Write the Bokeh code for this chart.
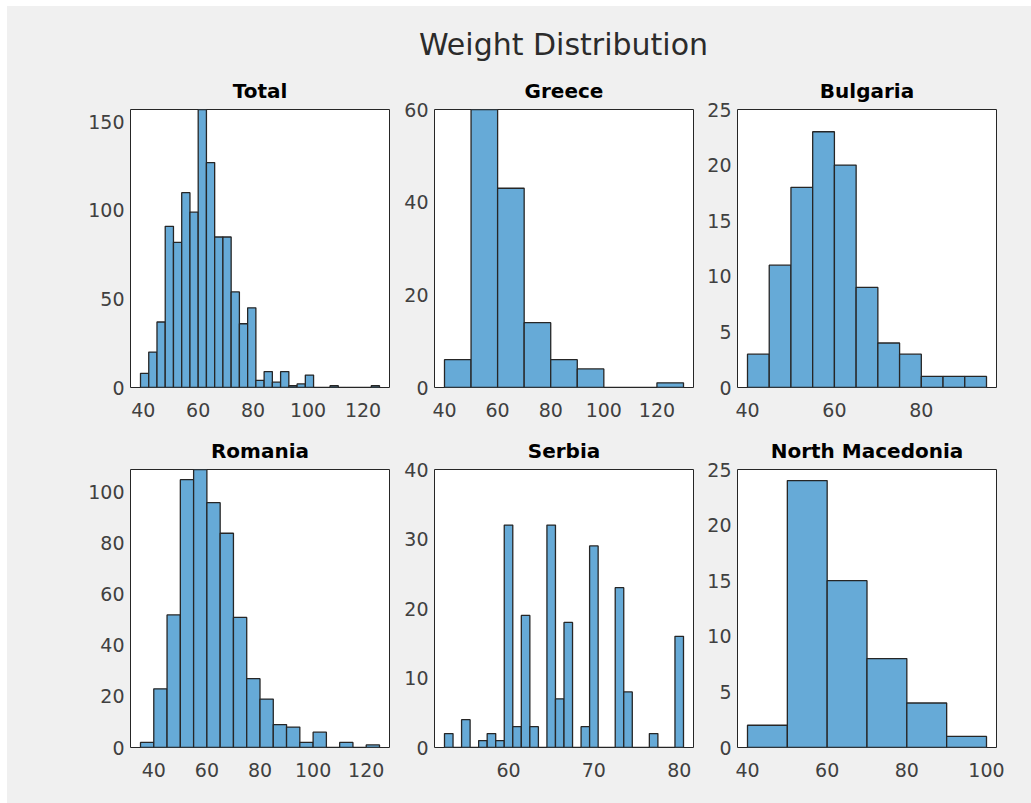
from bokeh.plotting import figure
from bokeh.layouts import column, row
from bokeh.models import Range1d, FixedTicker, Title, Div
from bokeh.embed import file_html
from bokeh.resources import INLINE

# ---- histogram data (bin edges and counts per panel) ----
total_edges = [39, 42, 45, 48, 51, 54, 57, 60, 63, 66, 69, 72, 75, 78, 81, 84, 87,
               90, 93, 96, 99, 102, 105, 108, 111, 114, 117, 120, 123, 126]
total_counts = [8, 20, 37, 91, 82, 110, 99, 157, 127, 85, 85, 54, 36, 45, 4, 9, 3,
                9, 1, 2, 7, 0, 0, 1, 0, 0, 0, 0, 1]

greece_edges = [40, 50, 60, 70, 80, 90, 100, 110, 120, 130]
greece_counts = [6, 60, 43, 14, 6, 4, 0, 0, 1]

bulgaria_edges = [40, 45, 50, 55, 60, 65, 70, 75, 80, 85, 90, 95]
bulgaria_counts = [3, 11, 18, 23, 20, 9, 4, 3, 1, 1, 1]

romania_edges = [35, 40, 45, 50, 55, 60, 65, 70, 75, 80, 85, 90, 95, 100,
                 105, 110, 115, 120, 125]
romania_counts = [2, 23, 52, 105, 109, 96, 84, 51, 27, 19, 9, 8, 2, 6, 0, 2, 0, 1]

# Serbia uses integer bins centred on each whole kilogram
serbia_weights = [53, 54, 55, 56, 57, 58, 59, 60, 61, 62, 63, 64, 65, 66, 67, 68,
                  69, 70, 71, 72, 73, 74, 75, 76, 77, 78, 79, 80]
serbia_counts = [2, 0, 4, 0, 1, 2, 1, 32, 3, 19, 3, 0, 32, 7, 18, 0,
                 3, 29, 0, 0, 23, 8, 0, 0, 2, 0, 0, 16]
serbia_edges = [w - 0.5 for w in serbia_weights] + [serbia_weights[-1] + 0.5]

macedonia_edges = [40, 50, 60, 70, 80, 90, 100]
macedonia_counts = [2, 24, 15, 8, 4, 1]

panels = [
    ("Total", total_edges, total_counts, 157, [40, 60, 80, 100, 120], [0, 50, 100, 150]),
    ("Greece", greece_edges, greece_counts, 60, [40, 60, 80, 100, 120], [0, 20, 40, 60]),
    ("Bulgaria", bulgaria_edges, bulgaria_counts, 25, [40, 60, 80], [0, 5, 10, 15, 20, 25]),
    ("Romania", romania_edges, romania_counts, 109, [40, 60, 80, 100, 120], [0, 20, 40, 60, 80, 100]),
    ("Serbia", serbia_edges, serbia_counts, 40, [60, 70, 80], [0, 10, 20, 30, 40]),
    ("North Macedonia", macedonia_edges, macedonia_counts, 25, [40, 60, 80, 100], [0, 5, 10, 15, 20, 25]),
]

# ---- styling / layout ----
FRAME_W, FRAME_H = 259, 278
EDGE_PAD_PX = 10
COL_BORDERS = [(123, 10), (35, 10), (34, 35)]   # (left, right)
ROW_BORDERS = [(43, 40), (42, 56)]              # (top, bottom)
HEADER_H = 60
PAGE_W = sum(l + FRAME_W + r for l, r in COL_BORDERS)
BG = "#f0f0f0"
BAR_FILL = "#66aad7"
BAR_LINE = "#262626"
AX_COLOR = "#262626"
FONT = "DejaVu Sans"


def make_panel(idx, name, edges, counts, ymax, xticks, yticks):
    r, c = divmod(idx, 3)
    left_b, right_b = COL_BORDERS[c]
    top_b, bottom_b = ROW_BORDERS[r]
    span = edges[-1] - edges[0]
    pad = span * EDGE_PAD_PX / (FRAME_W - 2 * EDGE_PAD_PX)
    p = figure(
        width=left_b + FRAME_W + right_b,
        height=top_b + FRAME_H + bottom_b,
        x_range=Range1d(edges[0] - pad, edges[-1] + pad),
        y_range=Range1d(0, ymax),
        output_backend="svg",
        toolbar_location=None,
        min_border_left=left_b, min_border_right=right_b,
        min_border_top=top_b, min_border_bottom=bottom_b,
        background_fill_color="white",
        border_fill_color=BG,
        outline_line_color=AX_COLOR,
        outline_line_width=1,
    )
    p.quad(left=edges[:-1], right=edges[1:], bottom=0, top=counts,
           fill_color=BAR_FILL, line_color=BAR_LINE, line_width=1.3)

    p.xgrid.visible = False
    p.ygrid.visible = False
    p.xaxis.ticker = FixedTicker(ticks=xticks)
    p.yaxis.ticker = FixedTicker(ticks=yticks)
    for ax in (p.xaxis[0], p.yaxis[0]):
        ax.axis_line_color = None
        ax.major_tick_line_color = None
        ax.minor_tick_line_color = None
        ax.major_tick_in = 0
        ax.major_tick_out = 0
        ax.minor_tick_in = 0
        ax.minor_tick_out = 0
        ax.major_label_text_font = FONT
        ax.major_label_text_font_size = "19px"
        ax.major_label_text_color = "#404040"
    p.xaxis.major_label_standoff = 15
    p.yaxis.major_label_standoff = 6

    p.add_layout(Title(text=name, align="center", text_font=FONT,
                       text_font_size="20px", text_font_style="bold",
                       text_color="black", standoff=14), "above")
    return p


figs = [make_panel(i, *pnl) for i, pnl in enumerate(panels)]

# overall heading, centred over the middle column of panels
mid_center = COL_BORDERS[0][0] + FRAME_W + COL_BORDERS[0][1] + COL_BORDERS[1][0] + FRAME_W / 2
shift = 2 * mid_center - PAGE_W
header = Div(
    text=(f'<div style="width:{PAGE_W - shift:.0f}px; margin-left:{shift:.0f}px; '
          f'padding-top:21px; text-align:center; font-family:\'{FONT}\'; '
          f'font-size:30px; line-height:normal; color:#2b2b2b; white-space:nowrap;">'
          'Weight Distribution</div>'),
    width=PAGE_W, height=HEADER_H,
    styles={"background-color": BG, "margin": "0", "padding": "0"},
)

layout = column(
    header,
    row(*figs[:3], styles={"background-color": BG}),
    row(*figs[3:], styles={"background-color": BG}),
    margin=(6, 0, 0, 7),
    styles={"background-color": BG},
)

open("out.html", "w").write(file_html(layout, INLINE, "Weight Distribution"))
